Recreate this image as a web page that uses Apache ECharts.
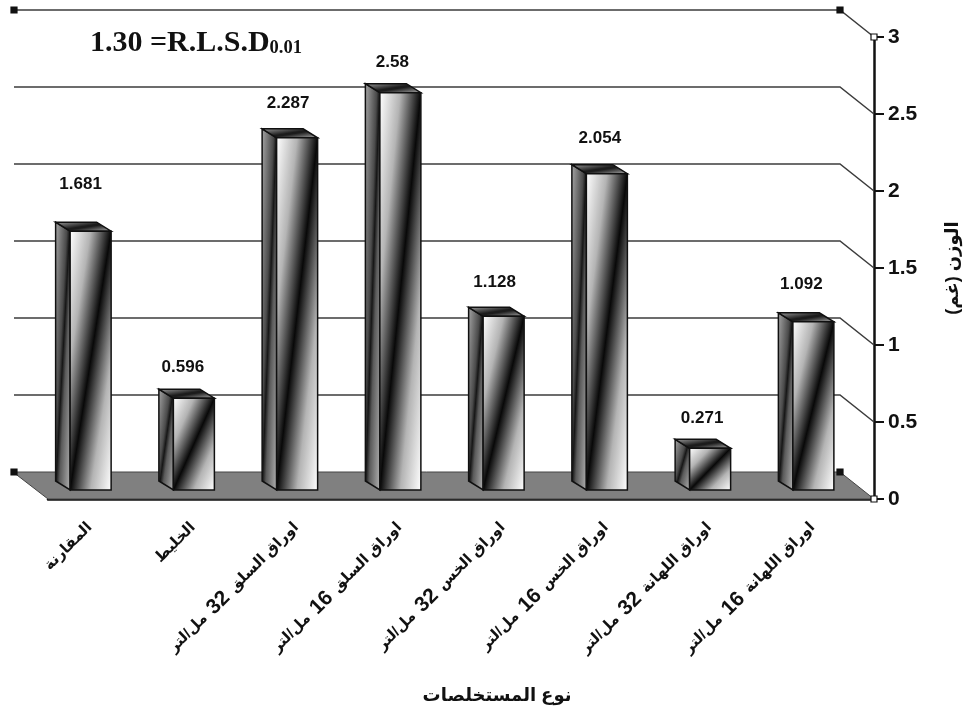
<!DOCTYPE html>
<html>
<head>
<meta charset="utf-8">
<style>html,body{margin:0;padding:0;background:#fff}#chart{width:970px;height:716px}</style>
<script src="https://cdn.jsdelivr.net/npm/echarts@6/dist/echarts.min.js"></script>
</head>
<body>
<div id="chart"></div>
<script>
// Extract treatments and the weight measured for each one
var categories = ['المقارنة', 'الخليط', 'اوراق السلق 32 مل/لتر', 'اوراق السلق 16 مل/لتر', 'اوراق الخس 32 مل/لتر', 'اوراق الخس 16 مل/لتر', 'اوراق اللهانة 32 مل/لتر', 'اوراق اللهانة 16 مل/لتر'];
var weights = [1.681, 0.596, 2.287, 2.58, 1.128, 2.054, 0.271, 1.092];
var yTicks = [0, 0.5, 1, 1.5, 2, 2.5, 3];
var yName = 'الوزن (غم)';
var xName = 'نوع المستخلصات';
var lsdValue = '1.30 =R.L.S.D';
var lsdLevel = '0.01';

// Hand-placed distance of each value label above and left of its bar top
var labelLift = [47, 31, 34, 30, 34, 35, 30, 38];
var labelShift = [10, 11, 9, 8, 9, 7, 8, 12];

// Depth of the pseudo-3D box and of the bars standing inside it
var WALL_DX = -34, WALL_DY = -27;
var BAR_SHIFT_X = -9, BAR_SHIFT_Y = -9, BAR_HALF = 20.5;
var SIDE_DX = -14.5, SIDE_DY = -9;
var SANS = '"Liberation Sans", Arial, "DejaVu Sans", sans-serif';

// Gradient whose dark band runs along the rising diagonal of a box
function sweep(x, y, w, h, stops) {
  var len = Math.sqrt(w * w + h * h);
  var half = w * h / len;
  var nx = h / len, ny = w / len;
  var cx = x + w / 2, cy = y + h / 2;
  return new echarts.graphic.LinearGradient(
    cx - nx * half, cy - ny * half, cx + nx * half, cy + ny * half, stops, true);
}
var frontStops = [
  {offset: 0, color: '#ffffff'}, {offset: 0.25, color: '#b4b4b4'}, {offset: 0.5, color: '#080808'},
  {offset: 0.75, color: '#b4b4b4'}, {offset: 1, color: '#ffffff'}
];
var sideStops = [
  {offset: 0, color: '#a4a4a4'}, {offset: 0.4, color: '#4a4a4a'}, {offset: 0.5, color: '#161616'},
  {offset: 0.62, color: '#5a5a5a'}, {offset: 1, color: '#b0b0b0'}
];
var topStops = [
  {offset: 0, color: '#9a9a9a'}, {offset: 0.48, color: '#1c1c1c'}, {offset: 0.56, color: '#1c1c1c'}, {offset: 1, color: '#a8a8a8'}
];

function handle(x, y, hollow) {
  return {
    type: 'rect', shape: {x: x - 3, y: y - 3, width: 6, height: 6},
    style: {fill: hollow ? '#ffffff' : '#111111', stroke: '#111111', lineWidth: 1.2}
  };
}

// Floor, back-wall rules and their slanted returns to the value axis
function renderWall(params, api) {
  var rect = params.coordSys;
  var left = rect.x, right = rect.x + rect.width;
  var y = api.coord([0, api.value(0)])[1];
  var kids = [];
  if (api.value(0) === 0) {
    kids.push({
      type: 'polygon',
      shape: {points: [[left + WALL_DX - 1, y + WALL_DY], [right + WALL_DX, y + WALL_DY], [right, y], [left, y]]},
      style: {fill: '#808080', stroke: '#444444', lineWidth: 1}
    });
    kids.push(handle(left + WALL_DX, y + WALL_DY, false), handle(right + WALL_DX, y + WALL_DY, false), handle(right, y, true));
  } else {
    kids.push({
      type: 'polyline',
      shape: {points: [[left + WALL_DX, y + WALL_DY], [right + WALL_DX, y + WALL_DY], [right, y]]},
      style: {fill: null, stroke: '#3c3c3c', lineWidth: 1.5}
    });
    if (api.value(0) === 3) {
      kids.push(handle(left + WALL_DX, y + WALL_DY, false), handle(right + WALL_DX, y + WALL_DY, false), handle(right, y, true));
    }
  }
  return {type: 'group', children: kids};
}

function renderBar(params, api) {
  var i = api.value(0), v = api.value(1);
  var base = api.coord([i, 0]);
  var head = api.coord([i, v]);
  var x0 = base[0] + BAR_SHIFT_X - BAR_HALF, x1 = x0 + BAR_HALF * 2;
  var yb = base[1] + BAR_SHIFT_Y, yt = head[1] + BAR_SHIFT_Y;
  var w = x1 - x0, h = yb - yt;
  var edge = {stroke: '#101010', lineWidth: 1.5};
  return {
    type: 'group',
    children: [
      {
        type: 'polygon',
        shape: {points: [[x0, yt], [x0 + SIDE_DX, yt + SIDE_DY], [x0 + SIDE_DX, yb + SIDE_DY], [x0, yb]]},
        style: Object.assign({fill: sweep(x0 + SIDE_DX, yt + SIDE_DY, -SIDE_DX, h - SIDE_DY, sideStops)}, edge)
      },
      {
        type: 'polygon',
        shape: {points: [[x0, yt], [x0 + SIDE_DX, yt + SIDE_DY], [x1 + SIDE_DX, yt + SIDE_DY], [x1, yt]]},
        style: Object.assign({fill: sweep(x0 + SIDE_DX, yt + SIDE_DY, w - SIDE_DX, -SIDE_DY, topStops)}, edge)
      },
      {
        type: 'rect',
        shape: {x: x0, y: yt, width: w, height: h},
        style: Object.assign({fill: sweep(x0, yt, w, h, frontStops)}, edge)
      },
      {
        type: 'text',
        x: x0 + BAR_HALF - labelShift[i],
        y: yt - labelLift[i],
        style: {text: String(v), fill: '#111111', font: 'bold 17px ' + SANS, align: 'center', verticalAlign: 'middle'}
      }
    ]
  };
}

// Logical string pieces are laid out left to right, with the dose figure set larger
function categoryLabel(text) {
  var parts = text.split(/(\d+)/);
  return parts.reverse().map(function (p) {
    if (!p) return '';
    return /^\d+$/.test(p) ? '{n|' + p + '}' : '{a|' + p.trim() + '}';
  }).join('');
}

var chart = echarts.init(document.getElementById('chart'), null, {renderer: 'canvas'});
chart.setOption({
  animation: false,
  backgroundColor: '#ffffff',
  grid: {left: 48, right: 96, top: 37, bottom: 217, outerBoundsMode: 'none'},
  xAxis: {
    type: 'category',
    data: categories,
    name: xName,
    nameLocation: 'middle',
    nameGap: 188,
    nameTextStyle: {fontFamily: SANS, fontWeight: 'bold', fontSize: 18, color: '#111111', padding: [0, 0, 0, 72]},
    axisLine: {lineStyle: {color: '#111111', width: 2.5}},
    axisTick: {length: 9, lineStyle: {color: '#111111', width: 2}},
    axisLabel: {
      rotate: 45,
      interval: 0,
      margin: 16,
      padding: [0, 14, 0, 0],
      formatter: categoryLabel,
      rich: {
        a: {fontFamily: SANS, fontWeight: 'bold', fontSize: 15, color: '#111111'},
        n: {fontFamily: SANS, fontWeight: 'bold', fontSize: 21, color: '#111111', padding: [0, 7, 0, 7]}
      }
    }
  },
  yAxis: {
    type: 'value',
    position: 'right',
    min: 0,
    max: 3,
    interval: 0.5,
    name: yName,
    nameLocation: 'middle',
    nameGap: 70,
    nameRotate: 90,
    nameTextStyle: {fontFamily: SANS, fontWeight: 'bold', fontSize: 18, color: '#111111'},
    axisLine: {show: true, lineStyle: {color: '#111111', width: 2.5}},
    axisTick: {show: true, length: 10, lineStyle: {color: '#111111', width: 2}},
    splitLine: {show: false},
    axisLabel: {
      margin: 14,
      formatter: function (v) { return yTicks.indexOf(v) >= 0 ? String(v) : ''; },
      fontFamily: SANS, fontWeight: 'bold', fontSize: 21, color: '#111111'
    }
  },
  graphic: [{
    type: 'text',
    left: 90,
    top: 28,
    style: {
      text: '{v|' + lsdValue + '}{s|' + lsdLevel + '}',
      rich: {
        v: {fontFamily: '"Liberation Serif", "Times New Roman", serif', fontWeight: 'bold', fontSize: 30, fill: '#111111', verticalAlign: 'bottom'},
        s: {fontFamily: '"Liberation Serif", "Times New Roman", serif', fontWeight: 'bold', fontSize: 18.5, fill: '#111111', verticalAlign: 'bottom', padding: [8, 0, 0, 0]}
      }
    }
  }],
  series: [
    {
      type: 'custom',
      name: 'wall',
      coordinateSystem: 'cartesian2d',
      clip: false,
      silent: true,
      z: 1,
      encode: {y: 0},
      data: yTicks.map(function (t) { return [t]; }),
      renderItem: renderWall
    },
    {
      type: 'custom',
      name: 'weight',
      coordinateSystem: 'cartesian2d',
      clip: false,
      silent: true,
      z: 3,
      encode: {x: 0, y: 1},
      data: weights.map(function (v, i) { return [i, v]; }),
      renderItem: renderBar
    }
  ]
});
</script>
</body>
</html>
